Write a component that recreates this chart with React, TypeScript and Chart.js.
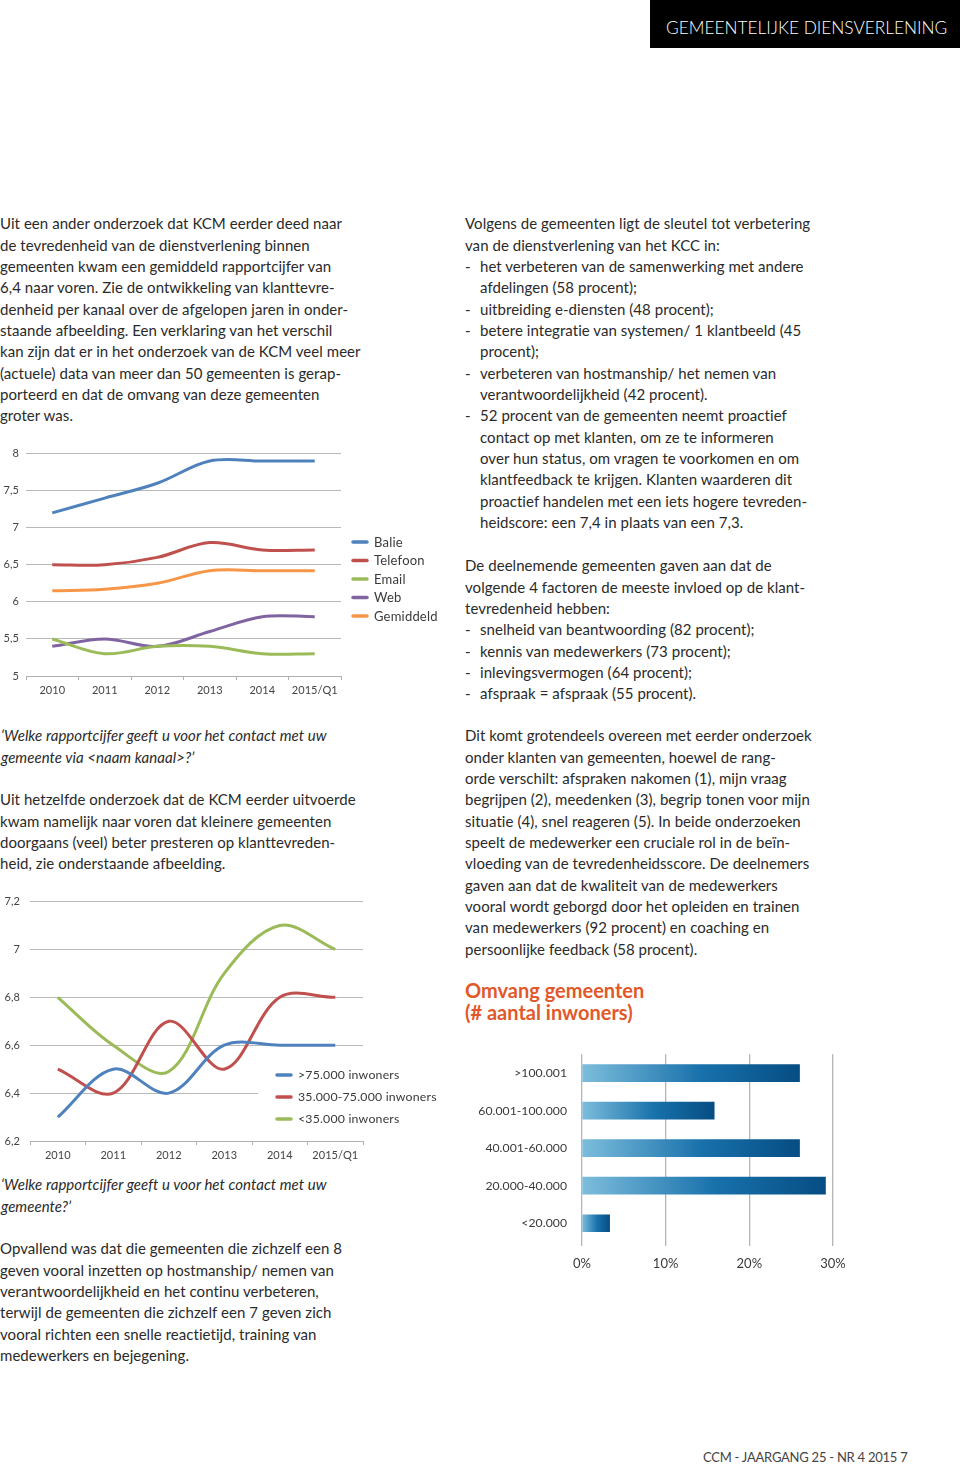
import React, { useEffect, useRef } from "react";
import { Chart, registerables } from "chart.js";

Chart.register(...registerables);

// ---------- DATA ----------
const years = ["2010", "2011", "2012", "2013", "2014", "2015/Q1"];

const channelNames = ["Balie", "Telefoon", "Email", "Web", "Gemiddeld"];
const balie = [7.2, 7.4, 7.6, 7.9, 7.9, 7.9];
const telefoon = [6.5, 6.5, 6.6, 6.8, 6.7, 6.7];
const email = [5.5, 5.3, 5.4, 5.4, 5.3, 5.3];
const web = [5.4, 5.5, 5.4, 5.6, 5.8, 5.8];
const gemiddeld = [6.15, 6.17, 6.25, 6.42, 6.42, 6.42];

const sizeNames = [">75.000 inwoners", "35.000-75.000 inwoners", "<35.000 inwoners"];
const groot = [6.3, 6.5, 6.4, 6.6, 6.6, 6.6];
const middel = [6.5, 6.4, 6.7, 6.5, 6.8, 6.8];
const klein = [6.8, 6.6, 6.49, 6.9, 7.1, 7.0];

const omvangLabels = [">100.001", "60.001-100.000", "40.001-60.000", "20.000-40.000", "<20.000"];
const omvangValues = [26, 15.8, 26, 29.1, 3.3];

const BLUE = "#4F81BD";
const RED = "#C0504D";
const GREEN = "#9BBB59";
const PURPLE = "#8064A2";
const ORANGE = "#F79646";

const FONT = "Lato, 'Open Sans', sans-serif";
const TEXT = "#2a2a2a";

const comma = (v: number | string) => String(v).replace(".", ",");

// custom legend plugin drawn on the chart canvas
function legendPlugin(x: number, y: number, step: number, size: number, box?: [number, number, number, number]) {
  return {
    id: "customLegend",
    afterDraw(chart: any) {
      const ctx = chart.ctx;
      ctx.save();
      if (box) {
        ctx.fillStyle = "#ffffff";
        ctx.fillRect(box[0], box[1], box[2], box[3]);
      }
      chart.data.datasets.forEach((ds: any, i: number) => {
        const yy = y + i * step;
        ctx.strokeStyle = ds.borderColor;
        ctx.lineWidth = 3.5;
        ctx.lineCap = "round";
        ctx.beginPath();
        ctx.moveTo(x, yy);
        ctx.lineTo(x + 14, yy);
        ctx.stroke();
        ctx.fillStyle = "#3a3a3a";
        ctx.font = `${size}px ${FONT}`;
        try { (ctx as any).letterSpacing = "0.2px"; } catch (e) {}
        ctx.textBaseline = "middle";
        ctx.textAlign = "left";
        ctx.fillText(ds.label, x + 21, yy + 0.5);
      });
      ctx.restore();
    },
  };
}

function lineDs(label: string, data: number[], color: string) {
  return {
    label,
    data,
    borderColor: color,
    backgroundColor: color,
    borderWidth: 3,
    pointRadius: 0,
    tension: 0.35,
    fill: false,
  };
}

function ChannelChart() {
  const ref = useRef<HTMLCanvasElement>(null);
  useEffect(() => {
    const chart = new Chart(ref.current!, {
      type: "line",
      data: {
        labels: years,
        datasets: [
          lineDs(channelNames[0], balie, BLUE),
          lineDs(channelNames[1], telefoon, RED),
          lineDs(channelNames[2], email, GREEN),
          lineDs(channelNames[3], web, PURPLE),
          lineDs(channelNames[4], gemiddeld, ORANGE),
        ],
      },
      options: {
        animation: false,
        responsive: false,
        layout: { padding: { top: 13, right: 104, left: 0, bottom: 0 } },
        plugins: { legend: { display: false }, tooltip: { enabled: false } },
        scales: {
          x: {
            offset: true,
            afterFit: (s: any) => { s.height = 26; },
            grid: { offset: true, drawOnChartArea: false, drawTicks: true, tickLength: 4, color: "#b0b0b0" },
            border: { display: true, color: "#b0b0b0" },
            ticks: { color: "#444", font: { size: 11, family: FONT }, padding: 4, maxRotation: 0 },
          },
          y: {
            min: 5,
            max: 8,
            afterFit: (s: any) => { s.width = 26; },
            border: { display: false },
            grid: { color: "#b8b8b8", drawTicks: false },
            ticks: { stepSize: 0.5, color: "#444", font: { size: 11, family: FONT }, padding: 7, callback: (v: any) => comma(v) },
          },
        },
      },
      plugins: [legendPlugin(353, 102, 18.5, 13)],
    } as any);
    return () => chart.destroy();
  }, []);
  return <canvas ref={ref} width={445} height={262} style={{ position: "absolute", left: 0, top: 440 }} />;
}

function SizeChart() {
  const ref = useRef<HTMLCanvasElement>(null);
  useEffect(() => {
    const chart = new Chart(ref.current!, {
      type: "line",
      data: {
        labels: years,
        datasets: [
          lineDs(sizeNames[0], groot, BLUE),
          lineDs(sizeNames[1], middel, RED),
          lineDs(sizeNames[2], klein, GREEN),
        ],
      },
      options: {
        animation: false,
        responsive: false,
        layout: { padding: { top: 14, right: 87, left: 0, bottom: 0 } },
        plugins: { legend: { display: false }, tooltip: { enabled: false } },
        scales: {
          x: {
            offset: true,
            afterFit: (s: any) => { s.height = 24; },
            grid: { offset: true, drawOnChartArea: false, drawTicks: true, tickLength: 4, color: "#b0b0b0" },
            border: { display: true, color: "#b0b0b0" },
            ticks: { color: "#444", font: { size: 11, family: FONT }, padding: 4, maxRotation: 0 },
          },
          y: {
            min: 6.2,
            max: 7.2,
            afterFit: (s: any) => { s.width = 30; },
            border: { display: false },
            grid: { color: "#b8b8b8", drawTicks: false },
            ticks: { stepSize: 0.2, color: "#444", font: { size: 11, family: FONT }, padding: 10, callback: (v: any) => comma(Math.round(v * 10) / 10) },
          },
        },
      },
      plugins: [legendPlugin(277, 190, 22, 12.3, [258, 176, 190, 74])],
    } as any);
    return () => chart.destroy();
  }, []);
  return <canvas ref={ref} width={450} height={280} style={{ position: "absolute", left: 0, top: 885 }} />;
}

function OmvangChart() {
  const ref = useRef<HTMLCanvasElement>(null);
  useEffect(() => {
    const chart = new Chart(ref.current!, {
      type: "bar",
      data: {
        labels: omvangLabels,
        datasets: [
          {
            data: omvangValues,
            barThickness: 17,
            borderWidth: 0,
            backgroundColor: (c: any) => {
              const ch = c.chart;
              const sx = ch.scales && ch.scales.x;
              if (!ch.chartArea || !sx || c.raw == null) return "#1a6aa5";
              const x0 = sx.getPixelForValue(0);
              const x1 = sx.getPixelForValue(c.raw);
              const g = ch.ctx.createLinearGradient(x0, 0, x1, 0);
              g.addColorStop(0, "#7dbddc");
              g.addColorStop(0.55, "#1871ab");
              g.addColorStop(1, "#064d83");
              return g;
            },
          },
        ],
      },
      options: {
        indexAxis: "y",
        animation: false,
        responsive: false,
        layout: { padding: { top: 10, right: 27, left: 0, bottom: 0 } },
        plugins: { legend: { display: false }, tooltip: { enabled: false } },
        scales: {
          x: {
            min: 0,
            max: 30,
            afterFit: (s: any) => { s.height = 33; },
            border: { display: false },
            grid: { color: "#b5b5b5", lineWidth: 1.3, drawTicks: true, tickLength: 4 },
            ticks: { stepSize: 10, color: "#3a3a3a", font: { size: 13, family: FONT }, padding: 10, callback: (v: any) => v + "%" },
          },
          y: {
            afterFit: (s: any) => { s.width = 112; },
            border: { display: false },
            grid: { display: false },
            ticks: { color: "#3a3a3a", font: { size: 12.2, family: FONT }, padding: 7 },
          },
        },
      },
    } as any);
    return () => chart.destroy();
  }, []);
  return <canvas ref={ref} width={390} height={235} style={{ position: "absolute", left: 470, top: 1040 }} />;
}

// ---------- TEXT ----------
const LH = 21.33;

function Lines({ x, y, lines, italic }: { x: number; y: number; lines: string[]; italic?: boolean }) {
  return (
    <div style={{ position: "absolute", left: x, top: y - LH / 2, lineHeight: LH + "px", whiteSpace: "pre" }}>
      {lines.map((l, i) => {
        if (l.startsWith("- ")) {
          return (
            <div key={i} style={{ position: "relative", height: LH }}>
              <span style={{ position: "absolute", left: 0 }}>-</span>
              <span style={{ position: "absolute", left: 15 }}>{l.slice(2)}</span>
            </div>
          );
        }
        if (l.startsWith("  ")) {
          return (
            <div key={i} style={{ position: "relative", height: LH }}>
              <span style={{ position: "absolute", left: 15 }}>{l.slice(2)}</span>
            </div>
          );
        }
        return (
          <div key={i} style={{ height: LH, fontStyle: italic ? "italic" : "normal" }}>
            {l}
          </div>
        );
      })}
    </div>
  );
}

const leftP1 = [
  "Uit een ander onderzoek dat KCM eerder deed naar",
  "de tevredenheid van de dienstverlening binnen",
  "gemeenten kwam een gemiddeld rapportcijfer van",
  "6,4 naar voren. Zie de ontwikkeling van klanttevre-",
  "denheid per kanaal over de afgelopen jaren in onder-",
  "staande afbeelding. Een verklaring van het verschil",
  "kan zijn dat er in het onderzoek van de KCM veel meer",
  "(actuele) data van meer dan 50 gemeenten is gerap-",
  "porteerd en dat de omvang van deze gemeenten",
  "groter was.",
];
const leftQ1 = ["\u2018Welke rapportcijfer geeft u voor het contact met uw", "gemeente via <naam kanaal>?\u2019"];
const leftP2 = [
  "Uit hetzelfde onderzoek dat de KCM eerder uitvoerde",
  "kwam namelijk naar voren dat kleinere gemeenten",
  "doorgaans (veel) beter presteren op klanttevreden-",
  "heid, zie onderstaande afbeelding.",
];
const leftQ2 = ["\u2018Welke rapportcijfer geeft u voor het contact met uw", "gemeente?\u2019"];
const leftP3 = [
  "Opvallend was dat die gemeenten die zichzelf een 8",
  "geven vooral inzetten op hostmanship/ nemen van",
  "verantwoordelijkheid en het continu verbeteren,",
  "terwijl de gemeenten die zichzelf een 7 geven zich",
  "vooral richten een snelle reactietijd, training van",
  "medewerkers en bejegening.",
];
const rightP1 = [
  "Volgens de gemeenten ligt de sleutel tot verbetering",
  "van de dienstverlening van het KCC in:",
  "- het verbeteren van de samenwerking met andere",
  "  afdelingen (58 procent);",
  "- uitbreiding e-diensten (48 procent);",
  "- betere integratie van systemen/ 1 klantbeeld (45",
  "  procent);",
  "- verbeteren van hostmanship/ het nemen van",
  "  verantwoordelijkheid (42 procent).",
  "- 52 procent van de gemeenten neemt proactief",
  "  contact op met klanten, om ze te informeren",
  "  over hun status, om vragen te voorkomen en om",
  "  klantfeedback te krijgen. Klanten waarderen dit",
  "  proactief handelen met een iets hogere tevreden-",
  "  heidscore: een 7,4 in plaats van een 7,3.",
];
const rightP2 = [
  "De deelnemende gemeenten gaven aan dat de",
  "volgende 4 factoren de meeste invloed op de klant-",
  "tevredenheid hebben:",
  "- snelheid van beantwoording (82 procent);",
  "- kennis van medewerkers (73 procent);",
  "- inlevingsvermogen (64 procent);",
  "- afspraak = afspraak (55 procent).",
];
const rightP3 = [
  "Dit komt grotendeels overeen met eerder onderzoek",
  "onder klanten van gemeenten, hoewel de rang-",
  "orde verschilt: afspraken nakomen (1), mijn vraag",
  "begrijpen (2), meedenken (3), begrip tonen voor mijn",
  "situatie (4), snel reageren (5). In beide onderzoeken",
  "speelt de medewerker een cruciale rol in de be\u00efn-",
  "vloeding van de tevredenheidsscore. De deelnemers",
  "gaven aan dat de kwaliteit van de medewerkers",
  "vooral wordt geborgd door het opleiden en trainen",
  "van medewerkers (92 procent) en coaching en",
  "persoonlijke feedback (58 procent).",
];

export default function App() {
  return (
    <div
      style={{
        position: "absolute",
        left: 0,
        top: 0,
        width: 960,
        height: 1466,
        background: "#fff",
        overflow: "hidden",
        fontFamily: FONT,
        fontSize: 15,
        letterSpacing: "0.05px",
        color: TEXT,
      }}
    >
      <div
        style={{
          position: "absolute",
          left: 650,
          top: 0,
          width: 310,
          height: 48,
          background: "#000",
          color: "#fff",
          fontSize: 17.3,
          fontWeight: 300,
          letterSpacing: "0px",
          lineHeight: "48px",
          paddingLeft: 16,
          boxSizing: "border-box",
          paddingTop: 4,
          whiteSpace: "nowrap",
        }}
      >
        GEMEENTELIJKE DIENSVERLENING
      </div>

      <Lines x={0} y={224} lines={leftP1} />
      <Lines x={1} y={736} lines={leftQ1} italic />
      <Lines x={0} y={800} lines={leftP2} />
      <Lines x={1} y={1185} lines={leftQ2} italic />
      <Lines x={0} y={1249} lines={leftP3} />

      <Lines x={465} y={224} lines={rightP1} />
      <Lines x={465} y={566} lines={rightP2} />
      <Lines x={465} y={736} lines={rightP3} />

      <div
        style={{
          position: "absolute",
          left: 465,
          top: 979,
          fontSize: 20,
          fontWeight: 700,
          lineHeight: "22px",
          color: "#e3582a",
          letterSpacing: "0px",
          whiteSpace: "pre",
        }}
      >
        {"Omvang gemeenten\n(# aantal inwoners)"}
      </div>

      <ChannelChart />
      <SizeChart />
      <OmvangChart />

      <div
        style={{
          position: "absolute",
          left: 703,
          top: 1448,
          fontSize: 13,
          lineHeight: "18px",
          color: "#444",
          letterSpacing: "-0.25px",
          whiteSpace: "pre",
        }}
      >
        {"CCM - JAARGANG 25 - NR 4 2015 7"}
      </div>
    </div>
  );
}
